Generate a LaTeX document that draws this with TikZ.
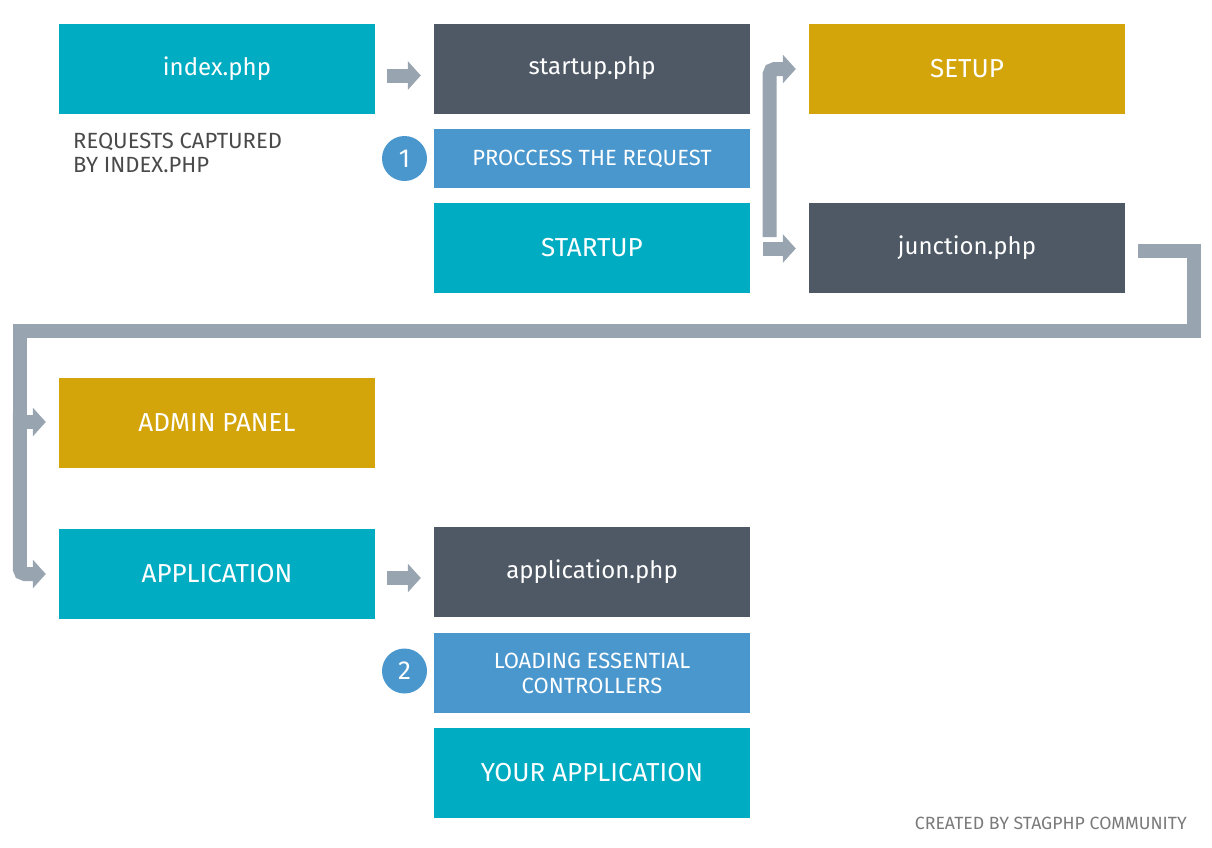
\documentclass[tikz,border=0pt]{standalone}
\usepackage{fontspec}
\setmainfont{Fira Sans}
\usetikzlibrary{arrows.meta,calc}
\definecolor{cteal}{HTML}{00ACC1}
\definecolor{cdark}{HTML}{4F5966}
\definecolor{cgold}{HTML}{D3A50B}
\definecolor{cblue}{HTML}{4A97CE}
\definecolor{cgray}{HTML}{98A4AF}
\definecolor{ctext}{HTML}{4A4A4A}
\definecolor{cnote}{HTML}{7A7A7A}
\begin{document}
\begin{tikzpicture}[x=1pt,y=-1pt,
  box/.style={minimum width=316pt, minimum height=90pt, inner sep=0pt, text=white,
    font=\fontsize{26}{30}\selectfont, align=center},
  lower/.style={font=\fontsize{24}{28}\selectfont},
  tealbox/.style={box, fill=cteal},
  darkbox/.style={box, fill=cdark, lower},
  goldbox/.style={box, fill=cgold},
  bluebox/.style={box, fill=cblue, font=\fontsize{22}{25}\selectfont},
  numcircle/.style={circle, fill=cblue, minimum size=45pt, inner sep=0pt, text=white,
    font=\fontsize{26}{30}\selectfont},
  fat/.style={draw=cgray, line width=14pt, line join=miter,
    -{Triangle[length=13pt, width=28pt]}}
]
\useasboundingbox (0,0) rectangle (1212,847);

% boxes
\node[tealbox, lower] (index) at (217,68.5) {index.php};
\node[darkbox] (startup) at (592,68.5) {startup.php};
\node[goldbox] (setup) at (967,68.5) {SETUP};
\node[bluebox, minimum height=59pt] (proc) at (592,158.5) {PROCCESS THE REQUEST};
\node[tealbox] (startupbox) at (592,248) {STARTUP};
\node[darkbox] (junction) at (967,248) {junction.php};
\node[goldbox] (admin) at (217,423) {ADMIN PANEL};
\node[tealbox] (application) at (217,573.5) {APPLICATION};
\node[darkbox] (appphp) at (592,571.5) {application.php};
\node[bluebox, minimum height=80pt] (loading) at (592,673) {LOADING ESSENTIAL\\CONTROLLERS};
\node[tealbox] (yourapp) at (592,773) {YOUR APPLICATION};

\node[numcircle] (one) at (404.5,158.5) {1};
\node[numcircle] (two) at (404.5,671) {2};

\node[anchor=base west, align=left, inner sep=0pt, text=ctext,
  font=\fontsize{22}{24}\selectfont] (req) at (73,172) {REQUESTS CAPTURED\\BY INDEX.PHP};
\node[anchor=base east, inner sep=0pt, text=cnote,
  font=\fontsize{17.7}{20}\selectfont] (credit) at (1187,829) {CREATED BY STAGPHP COMMUNITY};

% arrows
\draw[fat] ($(index.east)+(12,7)$) -- ($(startup.west)+(-13,7)$);
\draw[fat] ($(application.east)+(12,4.5)$) -- ($(appphp.west)+(-13,6.5)$);

\draw[fat, rounded corners=5pt] ($(startupbox.east)+(19.5,-11)$) -- ($(startup.east)+(19.5,0.5)$) -- ($(setup.west)+(-13,0.5)$);
\draw[fat] ($(startupbox.east)+(13,0.5)$) -- ($(junction.west)+(-13,0.5)$);

\draw[fat] ($(junction.east)+(13,3)$) -- ($(junction.east)+(68.5,3)$) -- ($(junction.east)+(68.5,83)$)
  -- ($(admin.west)+(-39,-92)$) -- ($(admin.west)+(-39,-1)$) -- ($(admin.west)+(-13,-1)$);
\draw[fat, rounded corners=5pt] ($(admin.west)+(-39,-10)$) -- ($(application.west)+(-39,0.5)$) -- ($(application.west)+(-13,0.5)$);
\end{tikzpicture}
\end{document}
